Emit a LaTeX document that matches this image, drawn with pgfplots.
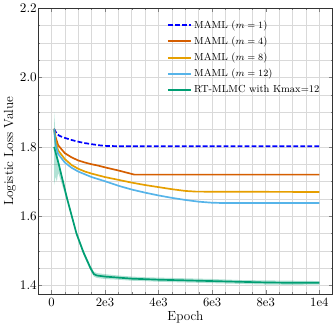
\documentclass[border=0pt]{standalone}
\usepackage{pgfplots}
\pgfplotsset{compat=1.18}
\definecolor{cblue}{RGB}{0,0,255}
\definecolor{cverm}{RGB}{213,94,0}
\definecolor{corange}{RGB}{230,159,0}
\definecolor{csky}{RGB}{86,180,233}
\definecolor{cgreen}{RGB}{0,158,115}
\begin{document}
\begin{tikzpicture}
\begin{axis}[
    scale only axis,
    width=245pt, height=237.5pt,
    xmin=-500, xmax=10500,
    ymin=1.376, ymax=2.2,
    xtick={0,2000,4000,6000,8000,10000},
    xticklabels={0,2e3,4e3,6e3,8e3,1e4},
    scaled x ticks=false,
    ytick={1.4,1.6,1.8,2.0,2.2},
    yticklabel style={/pgf/number format/fixed, /pgf/number format/fixed zerofill, /pgf/number format/precision=1, xshift=2.5pt},
    tick label style={font=\fontsize{10.5}{12}\selectfont},
    label style={font=\fontsize{11}{13}\selectfont},
    minor x tick num=3,
    minor y tick num=3,
    tick align=inside,
    major tick length=3pt,
    minor tick length=1.5pt,
    grid=both,
    major grid style={gray!30, line width=0.5pt},
    minor grid style={gray!30, line width=0.5pt},
    axis line style={black!80},
    xlabel={Epoch},
    ylabel={Logistic Loss Value},
    xlabel style={yshift=3pt},
    ylabel style={yshift=-3.5pt},
    legend cell align={left},
    legend image code/.code={\draw[#1, line width=1.8pt] (0pt,0pt) -- (19pt,0pt);},
    legend style={draw=none, fill=none, at={(0.424,0.975)}, anchor=north west,
        row sep=1.6pt, font=\fontsize{8.5}{10}\selectfont},
]
\addplot[cblue, dashed, dash pattern=on 4pt off 1.8pt, line width=1.4pt] coordinates {
(100,1.852) (200,1.838) (300,1.832) (500,1.826) (750,1.820) (1000,1.815)
(1250,1.811) (1500,1.808) (1750,1.805) (2000,1.803) (2500,1.802) (10000,1.802)
};
\addlegendentry{MAML ($m=1$)}
\addplot[cverm, line width=1.4pt] coordinates {
(100,1.852) (150,1.830) (250,1.805) (500,1.782) (750,1.770) (1000,1.761)
(1250,1.755) (1500,1.750) (1750,1.746) (2000,1.741) (2500,1.732) (3000,1.722)
(3100,1.720) (10000,1.720)
};
\addlegendentry{MAML ($m=4$)}
\addplot[corange, line width=1.4pt] coordinates {
(100,1.852) (150,1.820) (250,1.790) (500,1.765) (750,1.748) (1000,1.737)
(1250,1.729) (1500,1.723) (2000,1.713) (2500,1.705) (3000,1.697) (3500,1.690)
(4000,1.684) (4500,1.678) (5000,1.673) (5400,1.671) (10000,1.670)
};
\addlegendentry{MAML ($m=8$)}
\addplot[csky, line width=1.4pt] coordinates {
(100,1.852) (150,1.810) (250,1.780) (500,1.755) (750,1.740) (1000,1.729)
(1500,1.713) (2000,1.701) (2500,1.688) (3000,1.677) (3500,1.668) (4000,1.660)
(4500,1.653) (5000,1.647) (5500,1.642) (6000,1.639) (6500,1.638) (10000,1.638)
};
\addlegendentry{MAML ($m=12$)}
\addplot[draw=none, fill=cgreen, fill opacity=0.3, forget plot] coordinates {
(100,1.900) (150,1.840) (200,1.790) (275,1.757) (588,1.657) (936,1.557)
(1200,1.502) (1461,1.457) (1586,1.440) (1700,1.436) (2000,1.433)
(2500,1.429) (3000,1.426) (3500,1.424) (4000,1.423) (4500,1.422) (5000,1.421)
(6000,1.419) (7000,1.416) (8000,1.415) (9000,1.414) (10000,1.413)
(10000,1.403) (9000,1.402) (8000,1.403) (7000,1.405) (6000,1.407) (5000,1.409)
(4500,1.410) (4000,1.411) (3500,1.413) (3000,1.414) (2500,1.417) (2000,1.419)
(1700,1.422) (1586,1.426) (1461,1.443) (1200,1.488) (936,1.543) (588,1.643)
(300,1.715) (250,1.725) (200,1.700) (150,1.715) (100,1.690)
} -- cycle;
\addplot[cgreen, line width=1.4pt] coordinates {
(100,1.800) (275,1.750) (588,1.650) (936,1.550) (1200,1.495) (1461,1.450)
(1586,1.433) (1700,1.429) (2000,1.426) (2500,1.423) (3000,1.420)
(4000,1.417) (5000,1.415) (6000,1.413) (7000,1.411) (8000,1.409) (9000,1.408)
(10000,1.408)
};
\addlegendentry{RT-MLMC with Kmax=12}
\end{axis}
\end{tikzpicture}
\end{document}
